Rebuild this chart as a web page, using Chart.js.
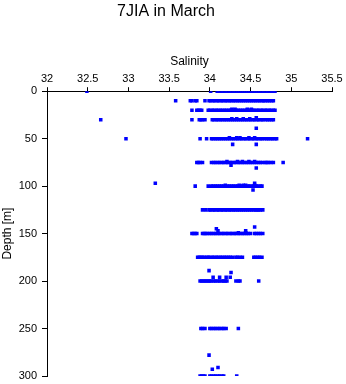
<!DOCTYPE html>
<html>
<head>
<meta charset="utf-8">
<script src="https://cdn.jsdelivr.net/npm/chart.js@4/dist/chart.umd.min.js"></script>
<style>
html,body{margin:0;padding:0;background:#fff;}
canvas{display:block;}
</style>
</head>
<body>
<canvas id="c" width="346" height="384"></canvas>
<script>
// Salinity values observed at each depth level (m)
const s0 = [32.49, 34.01, 34.09,34.11,34.14,34.16,34.19,34.21,34.24,34.26,34.29,34.31,34.34,34.36,34.39,34.41,34.44,34.46,34.49,34.51,34.54,34.56,34.59,34.61,34.64,34.66,34.69,34.71,34.74,34.76,34.78,34.80];
const s10 = [33.58, 33.76, 33.78, 33.82, 33.84, 33.94, 33.99,34.01,34.04,34.06,34.09,34.11,34.14,34.16,34.19,34.21,34.24,34.26,34.29,34.31,34.34,34.36,34.39,34.41,34.44,34.46,34.49,34.51,34.54,34.56,34.59,34.61,34.64,34.66,34.68, 34.71,34.73,34.76,34.78];
const s19 = [34.27, 34.31, 34.46, 34.51];
const s20 = [33.78, 33.84,33.86,33.88,33.90, 33.98,34.00,34.03,34.05,34.08,34.10,34.13,34.15,34.18,34.20,34.23,34.25,34.28,34.30,34.33,34.35,34.38,34.40,34.43,34.45,34.48,34.50,34.53,34.55,34.58,34.60,34.63,34.65,34.68,34.70,34.73,34.75,34.78,34.80];
const s28 = [34.57];
const s29 = [34.27, 34.33, 34.41, 34.49];
const s30 = [32.66, 33.78, 33.87,33.89,33.91,33.94, 34.03,34.05,34.08,34.10,34.13,34.15,34.18,34.20,34.23,34.25,34.28,34.30,34.33,34.35,34.38,34.40,34.43,34.45,34.48,34.50,34.53,34.55,34.58,34.60,34.63,34.65,34.68, 34.71,34.73,34.76,34.78];
const s39 = [34.57];
const s49 = [34.24, 34.33, 34.37, 34.48, 34.55];
const s50 = [32.97, 33.88, 33.96, 34.02,34.04,34.07,34.09,34.12,34.14,34.17,34.19,34.22,34.24,34.27,34.29,34.32,34.34,34.37,34.39,34.42,34.44,34.47,34.49,34.52,34.54,34.57,34.59,34.62,34.64,34.67, 34.70,34.72,34.75,34.77,34.80,34.82, 35.20];
const s56 = [34.28, 34.57];
const s74 = [34.21, 34.34, 34.40, 34.48, 34.55];
const s75 = [33.84,33.86,33.88,33.91, 34.02, 34.05,34.07,34.10,34.12,34.15,34.17,34.20,34.22,34.25,34.27,34.30,34.32,34.35,34.37,34.40,34.42,34.45,34.47,34.50,34.52,34.55,34.57,34.60,34.62,34.65,34.68, 34.70,34.72,34.75,34.78, 34.90];
const s78 = [34.26];
const s81 = [34.57];
const s97 = [33.33, 34.55];
const s99 = [34.19, 34.36, 34.41, 34.44, 34.55];
const s100 = [33.82, 33.98, 34.02,34.04,34.07,34.09,34.12,34.14,34.17,34.19,34.22,34.24,34.27,34.29,34.32,34.34,34.37,34.39,34.42,34.44,34.47,34.49,34.52,34.54,34.57,34.59,34.62, 34.64];
const s104 = [34.53];
const s125 = [33.91, 33.95, 33.99,34.01,34.04,34.06,34.09,34.11,34.14,34.16,34.19,34.21,34.24,34.26,34.29,34.31,34.34,34.36,34.39,34.41,34.44,34.46,34.49,34.51,34.54,34.56,34.58, 34.60,34.62,34.65];
const s143 = [34.55];
const s145 = [34.08];
const s147 = [34.10, 34.44];
const s149 = [34.35, 34.44];
const s150 = [33.78,33.80,33.82,33.84, 33.91,33.93,33.95,33.97, 34.00,34.02,34.05,34.07,34.10,34.12,34.15,34.17,34.20,34.22,34.25,34.27,34.30,34.32,34.35,34.37,34.40,34.42,34.45,34.47,34.50, 34.55,34.57,34.60,34.62,34.65];
const s175 = [33.85,33.87,33.89,33.91,33.93,33.96, 33.98,34.00,34.03,34.05,34.08,34.10,34.13,34.15,34.18,34.20,34.23,34.25,34.28, 34.32,34.34,34.37,34.40, 34.54,34.56,34.59,34.61,34.64];
const s189 = [33.99];
const s191 = [34.26];
const s196 = [34.04, 34.12, 34.20, 34.25];
const s200 = [33.88,33.90,33.92,33.94,33.96,33.98, 34.00,34.02,34.05,34.07,34.10,34.12,34.15,34.17,34.19,34.21, 34.32,34.35,34.37, 34.60];
const s250 = [33.89,33.91,33.94, 34.00,34.02,34.05,34.07,34.10,34.12,34.15,34.17,34.20, 34.35];
const s278 = [33.99];
const s291 = [34.10];
const s293 = [34.03];
const s300 = [33.88,33.90,33.92,33.94, 34.00,34.02,34.05,34.07,34.10,34.12,34.15,34.17, 34.33];

const depthLevels = [0,10,19,20,28,29,30,39,49,50,56,74,75,78,81,97,99,100,104,125,143,145,147,149,150,175,189,191,196,200,250,278,291,293,300];
const salinityByLevel = [s0,s10,s19,s20,s28,s29,s30,s39,s49,s50,s56,s74,s75,s78,s81,s97,s99,s100,s104,s125,s143,s145,s147,s149,s150,s175,s189,s191,s196,s200,s250,s278,s291,s293,s300];

// Tick labels
const xTickValues = [32, 32.5, 33, 33.5, 34, 34.5, 35, 35.5];
const xTickLabels = ['32', '32.5', '33', '33.5', '34', '34.5', '35', '35.5'];
const yTickValues = [0, 50, 100, 150, 200, 250, 300];
const yTickLabels = ['0', '50', '100', '150', '200', '250', '300'];

const points = [];
depthLevels.forEach((d, i) => {
  salinityByLevel[i].forEach(s => points.push({x: s, y: d}));
});

const labelFor = (vals, labs) => v => {
  const k = vals.findIndex(t => Math.abs(t - v) < 1e-6);
  return k >= 0 ? labs[k] : '';
};

const FONT = 'Liberation Sans, Arial, Helvetica, sans-serif';

new Chart(document.getElementById('c'), {
  type: 'scatter',
  data: {
    datasets: [{
      data: points,
      pointStyle: 'rect',
      pointRadius: 2.5,
      pointHoverRadius: 2.5,
      borderWidth: 0,
      backgroundColor: '#0000ff'
    }]
  },
  options: {
    responsive: false,
    animation: false,
    devicePixelRatio: 1,
    layout: { padding: { left: 0, top: 0, right: 14, bottom: 8 } },
    plugins: {
      legend: { display: false },
      tooltip: { enabled: false },
      title: {
        display: true,
        text: '7JIA in March',
        color: '#000',
        font: { family: FONT, size: 16, weight: 'normal' },
        padding: { top: 2, bottom: 0 }
      }
    },
    scales: {
      x: {
        type: 'linear',
        position: 'top',
        min: 32, max: 35.5,
        ticks: { stepSize: 0.5, color: '#000', font: { family: FONT, size: 11 }, padding: 2, maxRotation: 0,
                 callback: labelFor(xTickValues, xTickLabels) },
        grid: { drawOnChartArea: false, drawTicks: true, tickLength: 4, color: '#000' },
        border: { color: '#000', width: 1 },
        title: { display: true, text: 'Salinity', color: '#000', font: { family: FONT, size: 12 }, padding: { top: 33, bottom: 0 } },
        afterFit: s => { s.height = 70; }
      },
      y: {
        type: 'linear',
        position: 'left',
        reverse: true,
        min: 0, max: 300,
        ticks: { stepSize: 50, color: '#000', font: { family: FONT, size: 11 }, padding: 5,
                 callback: labelFor(yTickValues, yTickLabels) },
        grid: { drawOnChartArea: false, drawTicks: true, tickLength: 5, color: '#000' },
        border: { color: '#000', width: 1 },
        title: { display: true, text: 'Depth [m]', color: '#000', font: { family: FONT, size: 12 }, padding: { top: 0, bottom: 0 } },
        afterFit: s => { s.width = 47; s.paddingTop = 0; s.paddingBottom = 0; }
      }
    }
  }
});
</script>
</body>
</html>
